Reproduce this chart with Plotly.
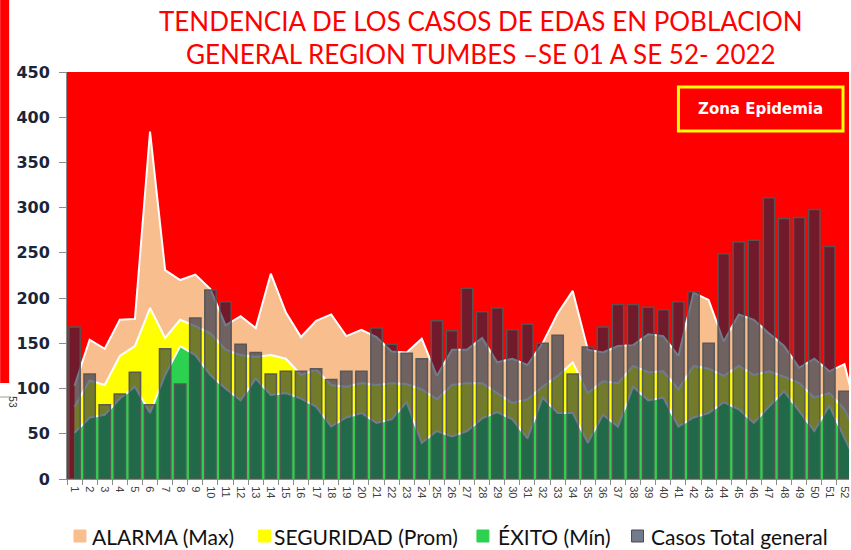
import plotly.graph_objects as go

# Semanas epidemiológicas (SE 01 - SE 52)
semanas = [str(i) for i in range(1, 53)]

# Casos totales de EDAs por semana
casos = [168, 116, 82, 94, 118, 82, 144, 105, 178, 209, 196, 149, 140,
         116, 119, 119, 122, 110, 119, 119, 167, 149, 139, 133, 175, 164,
         211, 185, 189, 165, 171, 150, 159, 116, 146, 168, 193, 193, 190,
         187, 196, 207, 150, 249, 262, 264, 311, 288, 289, 298, 257, 97]

# Canal endémico (incluye la SE 53 del histórico)
alarma = [103, 154, 144, 176, 177, 384, 231, 220, 226, 210, 170, 180, 167,
          227, 184, 157, 175, 182, 158, 165, 157, 141, 140, 155, 114, 143,
          143, 156, 129, 133, 126, 150, 183, 208, 143, 140, 147, 148, 160,
          158, 136, 206, 198, 152, 182, 176, 161, 147, 123, 133, 119, 127, 60]
seguridad = [80, 109, 104, 136, 147, 189, 156, 176, 169, 161, 143, 137, 135,
             137, 133, 115, 121, 104, 102, 106, 104, 106, 105, 99, 88, 104,
             106, 106, 95, 84, 88, 102, 114, 129, 95, 108, 106, 125, 118,
             119, 99, 125, 122, 114, 125, 115, 119, 113, 106, 90, 95, 77, 45]
exito = [51, 68, 71, 89, 102, 73, 115, 147, 137, 115, 100, 87, 111,
         93, 95, 89, 80, 58, 68, 73, 62, 66, 85, 40, 53, 47,
         53, 67, 74, 66, 45, 90, 73, 73, 40, 71, 58, 102, 87,
         90, 58, 68, 73, 85, 77, 62, 80, 97, 75, 53, 81, 45, 10]

y_ticks = [0, 50, 100, 150, 200, 250, 300, 350, 400, 450]

W, H = 851, 550
ML, MR, MT, MB = 67, 0, 72, 71
PW, PH = W - ML - MR, H - MT - MB


def px(x):
    return (x - ML) / PW


def py(y):
    return (H - MB - y) / PH


x_sem = [int(s) for s in semanas]
x_canal = list(range(1, len(alarma) + 1))
x_range = [0.5, 52.3]

fig = go.Figure()

canal = [
    ("ALARMA (Max)", alarma, "#F9BE8E"),
    ("SEGURIDAD (Prom)", seguridad, "#FFFF00"),
    ("ÉXITO (Mín)", exito, "#2DD150"),
]
for nombre, valores, color in canal:
    fig.add_trace(go.Scatter(
        x=x_canal, y=valores, name=nombre, mode="lines",
        fill="tozeroy", fillcolor=color,
        line=dict(color="white", width=2),
        xaxis="x", yaxis="y", showlegend=False,
    ))

bar_fill = "rgba(26,42,70,0.62)"
fig.add_trace(go.Bar(
    x=x_sem, y=casos, name="Casos Total general",
    marker=dict(color=bar_fill, line=dict(color="rgba(85,85,85,0.95)", width=1.5)),
    xaxis="x2", yaxis="y2", showlegend=False,
))

axis_gray = "#8C8C8C"
fig.update_layout(
    width=W, height=H,
    margin=dict(l=ML, r=MR, t=MT, b=MB),
    paper_bgcolor="white",
    plot_bgcolor="#FF0000",
    bargap=0.25,
    xaxis=dict(
        range=x_range, tickmode="array", tickvals=x_sem, ticktext=semanas,
        tickangle=90, ticks="", showgrid=False, zeroline=False,
        showline=True, linecolor=axis_gray, linewidth=1,
        tickfont=dict(family="Liberation Sans", size=11, color="#404040"),
        ticklabelstandoff=4, ticklabeloverflow="allow",
    ),
    xaxis2=dict(
        range=x_range, overlaying="x", anchor="y2", side="bottom",
        tickmode="array", tickvals=[v + 0.5 for v in [0] + x_sem],
        ticks="outside", ticklen=5, tickcolor=axis_gray, tickwidth=1,
        showticklabels=False, showgrid=False, zeroline=False, showline=False,
    ),
    yaxis=dict(
        range=[0, 450], tickmode="array", tickvals=y_ticks,
        ticks="outside", ticklen=7, tickcolor=axis_gray,
        showline=True, linecolor=axis_gray, linewidth=1,
        showgrid=False, zeroline=False,
        tickfont=dict(family="DejaVu Sans", size=16, color="#1B2539", weight="bold"),
        ticklabelstandoff=6,
    ),
    yaxis2=dict(range=[0, 450], overlaying="y", anchor="x2", visible=False),
    showlegend=False,
)

# Título
titulo = [
    ("TENDENCIA DE LOS CASOS DE EDAS EN POBLACION", 21),
    ("GENERAL REGION TUMBES –SE 01 A SE 52- 2022", 54),
]
for texto, yc in titulo:
    fig.add_annotation(
        text=texto, xref="paper", yref="paper", x=px(482), y=py(yc),
        xanchor="center", yanchor="middle", showarrow=False,
        font=dict(family="Lato", size=26, color="#FF0000"),
    )

# Recuadro de la zona epidémica
fig.add_shape(type="rect", xref="paper", yref="paper",
              x0=px(680), x1=px(845), y0=py(131), y1=py(87),
              line=dict(color="#FFFF00", width=3), fillcolor="#FF0000")
fig.add_annotation(text="<b>Zona Epidemia</b>", xref="paper", yref="paper",
                   x=px(762), y=py(109), xanchor="center", yanchor="middle",
                   showarrow=False,
                   font=dict(family="DejaVu Sans", size=15, color="white"))

# Leyenda
leyenda = [
    ("ALARMA (Max)", "#F9BE8E", 74, 90),
    ("SEGURIDAD (Prom)", "#FFFF00", 259, 273),
    ("ÉXITO (Mín)", "#2DD150", 478, 497),
    ("Casos Total general", "#717B8C", 633, 650),
]
for texto, color, xs, xt in leyenda:
    borde = "#4A4A4A" if texto.startswith("Casos") else color
    fig.add_shape(type="rect", xref="paper", yref="paper",
                  x0=px(xs), x1=px(xs + 12), y0=py(542), y1=py(530),
                  line=dict(color=borde, width=1), fillcolor=color)
    fig.add_annotation(text=texto, xref="paper", yref="paper",
                       x=px(xt), y=py(536), xanchor="left", yanchor="middle",
                       showarrow=False,
                       font=dict(family="Lato", size=21, color="#111111"))

# Borde de la lámina contigua
fig.add_shape(type="rect", xref="paper", yref="paper",
              x0=px(0), x1=px(9), y0=py(383), y1=py(0),
              line=dict(width=0), fillcolor="#FF0000")
fig.add_shape(type="line", xref="paper", yref="paper",
              x0=px(0), x1=px(11), y0=py(397), y1=py(397),
              line=dict(color="#9A9A9A", width=1))
fig.add_annotation(text="53", xref="paper", yref="paper", x=px(5), y=py(410),
                   textangle=90, showarrow=False,
                   font=dict(family="Liberation Sans", size=10, color="#333333"))

fig.write_html("out.html")
